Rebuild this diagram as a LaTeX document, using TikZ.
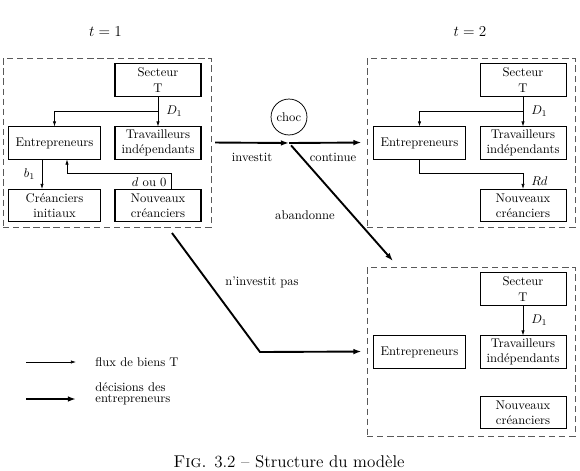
\documentclass[tikz,border=0pt]{standalone}
\usepackage{tikz}
\usetikzlibrary{arrows.meta,positioning,calc}

\tikzset{
  bloc/.style={draw,line width=0.8pt,align=center,minimum height=25.4pt,inner sep=1pt},
  blocg/.style={bloc,minimum width=73.7pt},
  blocd/.style={bloc,minimum width=68.2pt},
  cadre/.style={draw=black!65,dash pattern=on 5pt off 3pt,line width=0.6pt,
    minimum width=164.9pt,minimum height=134pt,inner sep=0pt},
  flux/.style={-{Latex[length=4pt,width=2.6pt]},line width=0.5pt},
  decision/.style={-{Latex[length=6.5pt,width=4.5pt]},line width=1.5pt},
}

\begin{document}
\begin{tikzpicture}[x=0.793pt,y=-0.793pt]
  \useasboundingbox (0,0) rectangle (580,470);

  % periodes
  \node[font=\large] (tun) at (105.5,32) {$t=1$};
  \node[font=\large] (tdeux) at (470,32) {$t=2$};

  % cadres
  \node[cadre] (cadreA) at (107,142.5) {};
  \node[cadre] (cadreB) at (471,142.5) {};
  \node[cadre] (cadreC) at (471,351.5) {};

  % t = 1
  \node[blocd] (secA) at (158,80) {Secteur\\T};
  \node[blocg] (entA) at (54.5,143) {Entrepreneurs};
  \node[blocd] (travA) at (158,143) {Travailleurs\\indépendants};
  \node[blocg] (creA) at (54.5,205.5) {Créanciers\\initiaux};
  \node[blocd] (nouvA) at (158,205.5) {Nouveaux\\créanciers};

  \draw[flux] (secA) -- node[pos=0.5,right=3pt] (dunA) {$D_1$} (travA);
  \draw[flux] ($(secA.south)!0.5!(travA.north)$) -| (entA);
  \coordinate (bA) at (42,0);
  \draw[flux] (entA.south -| bA) -- node[left=2pt] (bunA) {$b_1$} (creA.north -| bA);
  \coordinate (dA) at (171,173);
  \coordinate (eA) at (67,173);
  \draw[flux] (nouvA.north -| dA) -- (dA) -- (eA) -- (entA.south -| eA);
  \node[below left] (douA) at (dA) {$d$ ou 0};

  % t = 2, continue
  \node[blocd] (secB) at (523,80) {Secteur\\T};
  \node[blocg] (entB) at (419.5,143) {Entrepreneurs};
  \node[blocd] (travB) at (523,143) {Travailleurs\\indépendants};
  \node[blocd] (nouvB) at (523,205.5) {Nouveaux\\créanciers};

  \draw[flux] (secB) -- node[pos=0.5,right=3pt] (dunB) {$D_1$} (travB);
  \draw[flux] ($(secB.south)!0.5!(travB.north)$) -| (entB);
  \coordinate (rB) at (0,173);
  \draw[flux] (entB.south) -- (entB.south |- rB) -| node[pos=0.75,right=3pt] (rdB) {$Rd$} (nouvB.north);

  % t = 2, abandonne / n'investit pas
  \node[blocd] (secC) at (523,289) {Secteur\\T};
  \node[blocg] (entC) at (419.5,352) {Entrepreneurs};
  \node[blocd] (travC) at (523,352) {Travailleurs\\indépendants};
  \node[blocd] (nouvC) at (523,412.5) {Nouveaux\\créanciers};

  \draw[flux] (secC) -- node[pos=0.5,right=3pt] (dunC) {$D_1$} (travC);

  % decisions
  \node[circle,draw,line width=0.6pt,minimum size=28.5pt,inner sep=0pt] (choc) at (289,117) {choc};
  \coordinate (split) at (289,143);
  \coordinate (aband) at (393,261);
  \coordinate (nonA) at (172,233);
  \coordinate (coude) at (260,352);
  \draw[decision,shorten <=3pt] (cadreA.east) -- (split);
  \draw[decision,shorten >=4pt] (split) -- (cadreB.west);
  \draw[decision,shorten <=2.5pt] (split) -- (aband);
  \draw[decision,shorten >=4pt] (nonA) -- (coude) -- (cadreC.west);

  \node (investit) at (252,157) {investit};
  \node (continue) at (333,157) {continue};
  \node (abandonne) at (305,215) {abandonne};
  \node (ninvest) at (262,282) {n'investit pas};

  % legende
  \coordinate (lgA) at (26,362);
  \coordinate (lgB) at (76,362);
  \coordinate (lgC) at (26,399);
  \coordinate (lgD) at (76,399);
  \draw[flux] (lgA) -- (lgB);
  \draw[decision] (lgC) -- (lgD);
  \node[anchor=west] (lgflux) at (91,362) {flux de biens T};
  \node[anchor=west,align=left] (lgdec) at (91,394) {décisions des\\[-3pt]entrepreneurs};

  % legende de la figure
  \node[anchor=base west,inner sep=0pt,font=\fontsize{13.5}{16}\selectfont] (titre) at (173,467)
    {\textsc{Fig.} 3.2 -- Structure du modèle};
\end{tikzpicture}
\end{document}
